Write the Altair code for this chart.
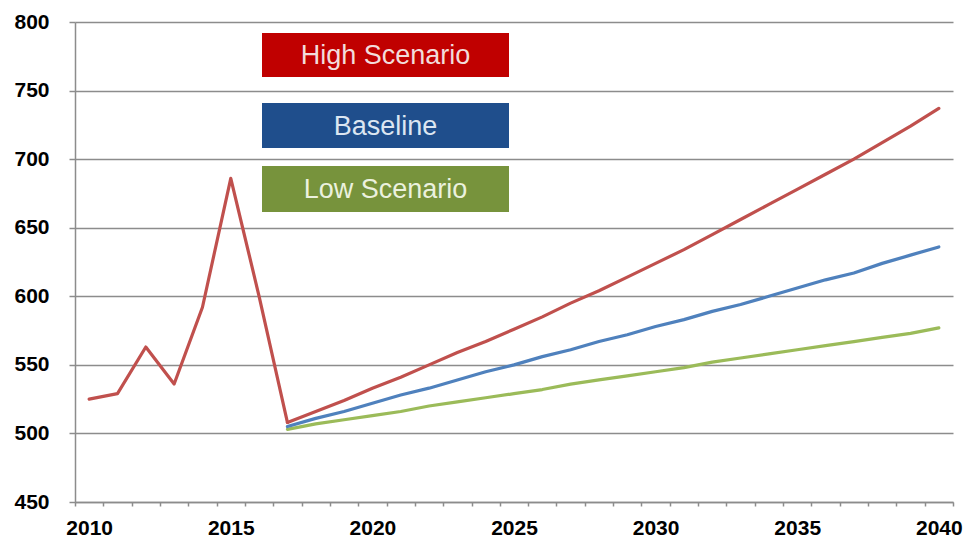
import altair as alt
import pandas as pd

# Historical series (shared by every scenario)
hist_years = list(range(2010, 2018))
hist_values = [525, 529, 563, 536, 592, 686, 600, 508]

# Projections 2017-2040
proj_years = list(range(2017, 2041))
high_values = [508, 516, 524, 533, 541, 550, 559, 567, 576, 585, 595, 604,
               614, 624, 634, 645, 656, 667, 678, 689, 700, 712, 724, 737]
base_values = [505, 511, 516, 522, 528, 533, 539, 545, 550, 556, 561, 567,
               572, 578, 583, 589, 594, 600, 606, 612, 617, 624, 630, 636]
low_values = [503, 507, 510, 513, 516, 520, 523, 526, 529, 532, 536, 539,
              542, 545, 548, 552, 555, 558, 561, 564, 567, 570, 573, 577]

series_names = ["Low Scenario", "Baseline", "High Scenario", "History"]
line_colors = ["#9BBB59", "#4F81BD", "#C0504D", "#C0504D"]

legend_labels = ["High Scenario", "Baseline", "Low Scenario"]
box_fill = ["#C00000", "#1F4E8C", "#77933C"]
box_text = ["#F2DCDB", "#DCE6F2", "#EBF1DE"]

y_ticks = [450, 500, 550, 600, 650, 700, 750, 800]

rows = []
for y, v in zip(hist_years, hist_values):
    rows.append({"year": y, "value": v, "series": "History"})
for name, vals in [("Low Scenario", low_values), ("Baseline", base_values),
                   ("High Scenario", high_values)]:
    for y, v in zip(proj_years, vals):
        rows.append({"year": y, "value": v, "series": name})
df = pd.DataFrame(rows)

W, H = 878, 480
GRID = "#8C8C8C"
FONT = "Liberation Sans"

# category boundaries carry the tick marks; labels sit mid-category
boundaries = [2009.5 + i for i in range(32)]
half_cat = W / 31 / 2

x_enc = alt.X(
    "year:Q",
    scale=alt.Scale(domain=[2009.5, 2040.5], nice=False, zero=False),
    axis=alt.Axis(
        values=boundaries,
        labelExpr="(datum.value + 0.5) % 5 == 0 ? format(datum.value + 0.5, 'd') : ''",
        labelOffset=half_cat,
        labelOverlap=False,
        labelFlush=False,
        tickSize=4,
        tickColor=GRID,
        tickWidth=1.5,
        domainColor=GRID,
        domainWidth=1.5,
        grid=False,
        labelFont=FONT,
        labelFontSize=21,
        labelFontWeight="bold",
        labelColor="#000000",
        labelPadding=11,
        title=None,
    ),
)
y_enc = alt.Y(
    "value:Q",
    scale=alt.Scale(domain=[450, 800], nice=False, zero=False),
    axis=alt.Axis(
        values=y_ticks,
        tickSize=6,
        tickColor=GRID,
        tickWidth=1.5,
        domainColor=GRID,
        domainWidth=1.5,
        grid=True,
        gridColor=GRID,
        gridWidth=1.5,
        labelFont=FONT,
        labelFontSize=21,
        labelFontWeight="bold",
        labelColor="#000000",
        labelPadding=20,
        title=None,
    ),
)
color_enc = alt.Color(
    "series:N",
    scale=alt.Scale(domain=series_names, range=line_colors),
    legend=None,
)

base = alt.Chart(df)
layers = []
for name in series_names:
    layers.append(
        base.transform_filter(alt.datum.series == name)
        .mark_line(strokeWidth=3.2, strokeJoin="round", strokeCap="round")
        .encode(x=x_enc, y=y_enc, color=color_enc)
    )

# scenario boxes
box_left, box_right = 187, 434
box_tops = [11, 81, 144]
box_bottoms = [55, 126, 190]
for lab, fill, tcol, top, bot in zip(legend_labels, box_fill, box_text, box_tops, box_bottoms):
    ldf = pd.DataFrame({"label": [lab]})
    layers.append(
        alt.Chart(ldf).mark_rect(color=fill).encode(
            x=alt.value(box_left), x2=alt.value(box_right),
            y=alt.value(top), y2=alt.value(bot),
        )
    )
    layers.append(
        alt.Chart(ldf).mark_text(
            font=FONT, fontSize=27, color=tcol, align="center", baseline="middle"
        ).encode(
            text="label:N",
            x=alt.value((box_left + box_right) / 2),
            y=alt.value((top + bot) / 2 + 1),
        )
    )

chart = alt.layer(*layers).properties(
    width=W,
    height=H,
    autosize=alt.AutoSizeParams(type="none"),
    padding={"left": 75, "top": 22, "right": 19, "bottom": 40},
    background="white",
).configure_view(stroke=None)

chart.save("out.html", embed_options={"renderer": "svg", "actions": False})
